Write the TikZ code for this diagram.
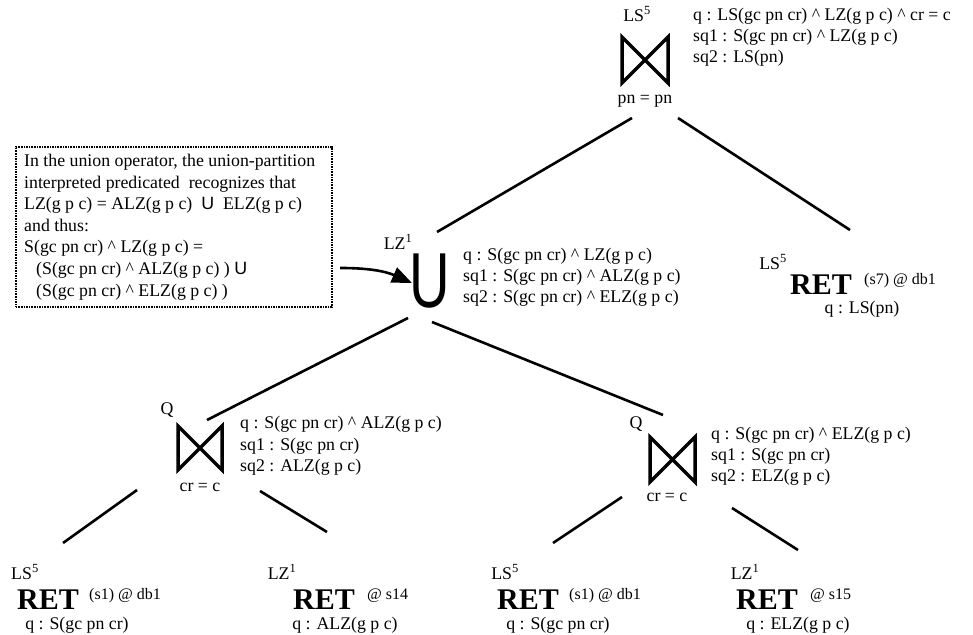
\documentclass[tikz,border=0pt]{standalone}
\usepackage{fontspec}
\setmainfont{Liberation Serif}
\setsansfont{Liberation Sans}
\usetikzlibrary{arrows.meta}
\begin{document}
\begin{tikzpicture}[x=1pt,y=-1pt,
  txt/.style={inner sep=0pt,font=\fontsize{17.8}{20}\selectfont},
  lbl/.style={txt,anchor=west,align=left},
  ret/.style={inner sep=0pt,font=\fontsize{30}{30}\selectfont\bfseries},
  small/.style={inner sep=0pt,font=\fontsize{16}{18}\selectfont,anchor=west},
  edge/.style={line width=2.6pt},
  bowtie/.style={line width=3.5pt,line join=miter},
  note/.style={draw,densely dotted,line width=1.6pt,inner sep=0pt}]
\useasboundingbox (0,0) rectangle (973,634);

% ---------- top join
\node[txt] (tls) at (637,14) {LS\textsuperscript{5}};
\draw[bowtie] (622,37) -- (622,83) -- (668,37) -- (668,83) -- cycle;
\node[txt] (tpn) at (645,101) {pn = pn};
\node[lbl] (tq) at (693,16) {q : LS(gc pn cr) \^{} LZ(g p c) \^{} cr = c};
\node[lbl] (tsq1) at (693,37) {sq1 : S(gc pn cr) \^{} LZ(g p c)};
\node[lbl] (tsq2) at (693,58) {sq2 : LS(pn)};
\coordinate (tjl) at (632,118);
\coordinate (tjr) at (678,118);

% ---------- union
\node[txt] (uls) at (398,242) {LZ\textsuperscript{1}};
\node[inner sep=0pt,font=\fontsize{78}{78}\sffamily] (un) at (430,281) {\scalebox{0.72}[1]{U}};
\node[lbl] (uq) at (463,256) {q : S(gc pn cr) \^{} LZ(g p c)};
\node[lbl] (usq1) at (463,277) {sq1 : S(gc pn cr) \^{} ALZ(g p c)};
\node[lbl] (usq2) at (463,298) {sq2 : S(gc pn cr) \^{} ELZ(g p c)};
\coordinate (ut) at (437,232);
\coordinate (ubl) at (408,318);
\coordinate (ubr) at (432,322);

% note box
\node[note,minimum width=316pt,minimum height=160pt,anchor=north west] (box) at (15,146) {};
\node[txt,anchor=north west,align=left,font=\fontsize{17.8}{21.6}\selectfont] (boxtxt) at (24,154)
 {In the union operator, the union-partition\\
  interpreted predicated\ \ recognizes that\\
  LZ(g p c) = ALZ(g p c)\ \ {\sffamily U}\ \ ELZ(g p c)\\
  and thus:\\
  S(gc pn cr) \^{} LZ(g p c) =\\
  \hspace*{12pt}(S(gc pn cr) \^{} ALZ(g p c) ) {\sffamily U}\\
  \hspace*{12pt}(S(gc pn cr) \^{} ELZ(g p c) )};
\coordinate (arrs) at (340,268);
\coordinate (arre) at (412,283);
\draw[line width=2.6pt,-{Triangle[length=20pt,width=16pt]}] (arrs) to[bend left=12] (arre);

% ---------- RET s7
\node[txt] (r7ls) at (773,262) {LS\textsuperscript{5}};
\node[ret] (r7) at (821,285) {RET};
\node[small] (r7s) at (864,281) {(s7) @ db1};
\node[txt] (r7q) at (862,309) {q : LS(pn)};
\coordinate (r7t) at (850,230);

% ---------- left Q join
\node[txt] (lqq) at (167,410) {Q};
\draw[bowtie] (178,426) -- (178,470) -- (222,426) -- (222,470) -- cycle;
\node[txt] (lcr) at (200,487) {cr = c};
\node[lbl] (lq) at (240,424) {q : S(gc pn cr) \^{} ALZ(g p c)};
\node[lbl] (lsq1) at (240,446) {sq1 : S(gc pn cr)};
\node[lbl] (lsq2) at (240,467) {sq2 : ALZ(g p c)};
\coordinate (lqt) at (207,420);
\coordinate (lqbl) at (137,490);
\coordinate (lqbr) at (260,491);

% ---------- right Q join
\node[txt] (rqq) at (636,424) {Q};
\draw[bowtie] (650,437) -- (650,482) -- (695,437) -- (695,482) -- cycle;
\node[txt] (rcr) at (667,497) {cr = c};
\node[lbl] (rq) at (711,435) {q : S(gc pn cr) \^{} ELZ(g p c)};
\node[lbl] (rsq1) at (711,456) {sq1 : S(gc pn cr)};
\node[lbl] (rsq2) at (711,477) {sq2 : ELZ(g p c)};
\coordinate (rqt) at (663,415);
\coordinate (rqbl) at (622,497);
\coordinate (rqbr) at (732,508);

% ---------- bottom RETs
\node[txt] (b1ls) at (25,572) {LS\textsuperscript{5}};
\node[ret] (b1) at (48,600) {RET};
\node[small] (b1s) at (89,596) {(s1) @ db1};
\node[txt] (b1q) at (77,625) {q : S(gc pn cr)};
\coordinate (b1t) at (63,543);

\node[txt] (b2ls) at (282,572) {LZ\textsuperscript{1}};
\node[ret] (b2) at (324,600) {RET};
\node[small] (b2s) at (367,596) {@ s14};
\node[txt] (b2q) at (345,625) {q : ALZ(g p c)};
\coordinate (b2t) at (327,532);

\node[txt] (b3ls) at (505,572) {LS\textsuperscript{5}};
\node[ret] (b3) at (528,600) {RET};
\node[small] (b3s) at (569,596) {(s1) @ db1};
\node[txt] (b3q) at (558,625) {q : S(gc pn cr)};
\coordinate (b3t) at (553,543);

\node[txt] (b4ls) at (745,572) {LZ\textsuperscript{1}};
\node[ret] (b4) at (767,600) {RET};
\node[small] (b4s) at (810,596) {@ s15};
\node[txt] (b4q) at (798,625) {q : ELZ(g p c)};
\coordinate (b4t) at (798,550);

% ---------- connectors
\draw[edge] (tjl) -- (ut);
\draw[edge] (tjr) -- (r7t);
\draw[edge] (ubl) -- (lqt);
\draw[edge] (ubr) -- (rqt);
\draw[edge] (lqbl) -- (b1t);
\draw[edge] (lqbr) -- (b2t);
\draw[edge] (rqbl) -- (b3t);
\draw[edge] (rqbr) -- (b4t);
\end{tikzpicture}
\end{document}
